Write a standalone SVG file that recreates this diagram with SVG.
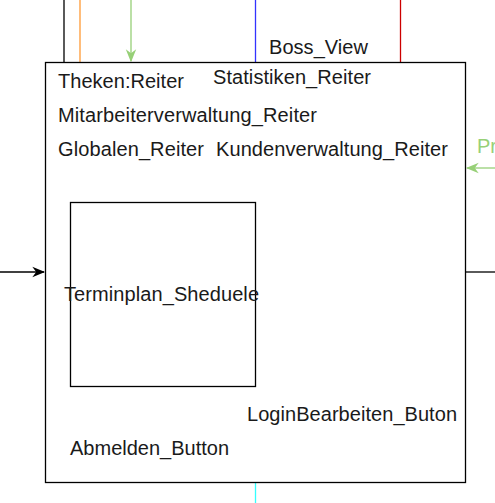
<svg xmlns="http://www.w3.org/2000/svg" width="495" height="503" viewBox="0 0 495 503">
<style>
.t{font-family:"Liberation Sans",Arial,sans-serif;font-size:20px;fill:#1a1a1a}
.box{fill:#fff;stroke:#000;stroke-width:1.3}
.ln{fill:none;stroke-width:1.3}
</style>
<defs>
<marker id="ab" viewBox="0 0 10 10" refX="9" refY="5" markerWidth="13" markerHeight="13" orient="auto" markerUnits="userSpaceOnUse"><path d="M0,1 L10,5 L0,9 L3,5 Z" fill="#000"/></marker>
<marker id="ag" viewBox="0 0 10 10" refX="9" refY="5" markerWidth="13" markerHeight="13" orient="auto" markerUnits="userSpaceOnUse"><path d="M0,1 L10,5 L0,9 L3,5 Z" fill="#97D077"/></marker>
</defs>
<g id="connectors">
<line class="ln" x1="64" y1="0" x2="64" y2="62" stroke="#000"/>
<line class="ln" x1="80" y1="0" x2="80" y2="62" stroke="#FF9933"/>
<line class="ln" x1="131" y1="0" x2="131" y2="61" stroke="#97D077" marker-end="url(#ag)"/>
<line class="ln" x1="255.5" y1="0" x2="255.5" y2="62" stroke="#3333FF"/>
<line class="ln" x1="400.5" y1="0" x2="400.5" y2="62" stroke="#CC0000"/>
<line class="ln" x1="255.5" y1="483" x2="255.5" y2="503" stroke="#33FFFF"/>
<line class="ln" x1="0" y1="272" x2="44" y2="272" stroke="#000" marker-end="url(#ab)"/>
<line class="ln" x1="465" y1="272" x2="495" y2="272" stroke="#000"/>
<line class="ln" x1="495" y1="168" x2="467" y2="168" stroke="#97D077" marker-end="url(#ag)"/>
</g>
<g id="boss_view">
<rect class="box" x="45.5" y="62.5" width="420" height="420"/>
<text class="t" x="269" y="54" textLength="99">Boss_View</text>
</g>
<g id="theken"><text class="t" x="58" y="88" textLength="126">Theken:Reiter</text></g>
<g id="statistiken"><text class="t" x="213" y="84" textLength="158">Statistiken_Reiter</text></g>
<g id="mitarbeiter"><text class="t" x="58" y="122" textLength="259">Mitarbeiterverwaltung_Reiter</text></g>
<g id="globalen"><text class="t" x="58" y="156" textLength="146">Globalen_Reiter</text></g>
<g id="kunden"><text class="t" x="216" y="156" textLength="232">Kundenverwaltung_Reiter</text></g>
<g id="terminplan">
<rect class="box" x="70.5" y="202.5" width="185" height="184"/>
<text class="t" x="64" y="301" textLength="195">Terminplan_Sheduele</text>
</g>
<g id="login"><text class="t" x="247" y="421" textLength="210">LoginBearbeiten_Buton</text></g>
<g id="abmelden"><text class="t" x="70" y="455" textLength="159">Abmelden_Button</text></g>
<g id="pr"><text class="t" x="477" y="153" style="fill:#97D077">Pr</text></g>
</svg>
